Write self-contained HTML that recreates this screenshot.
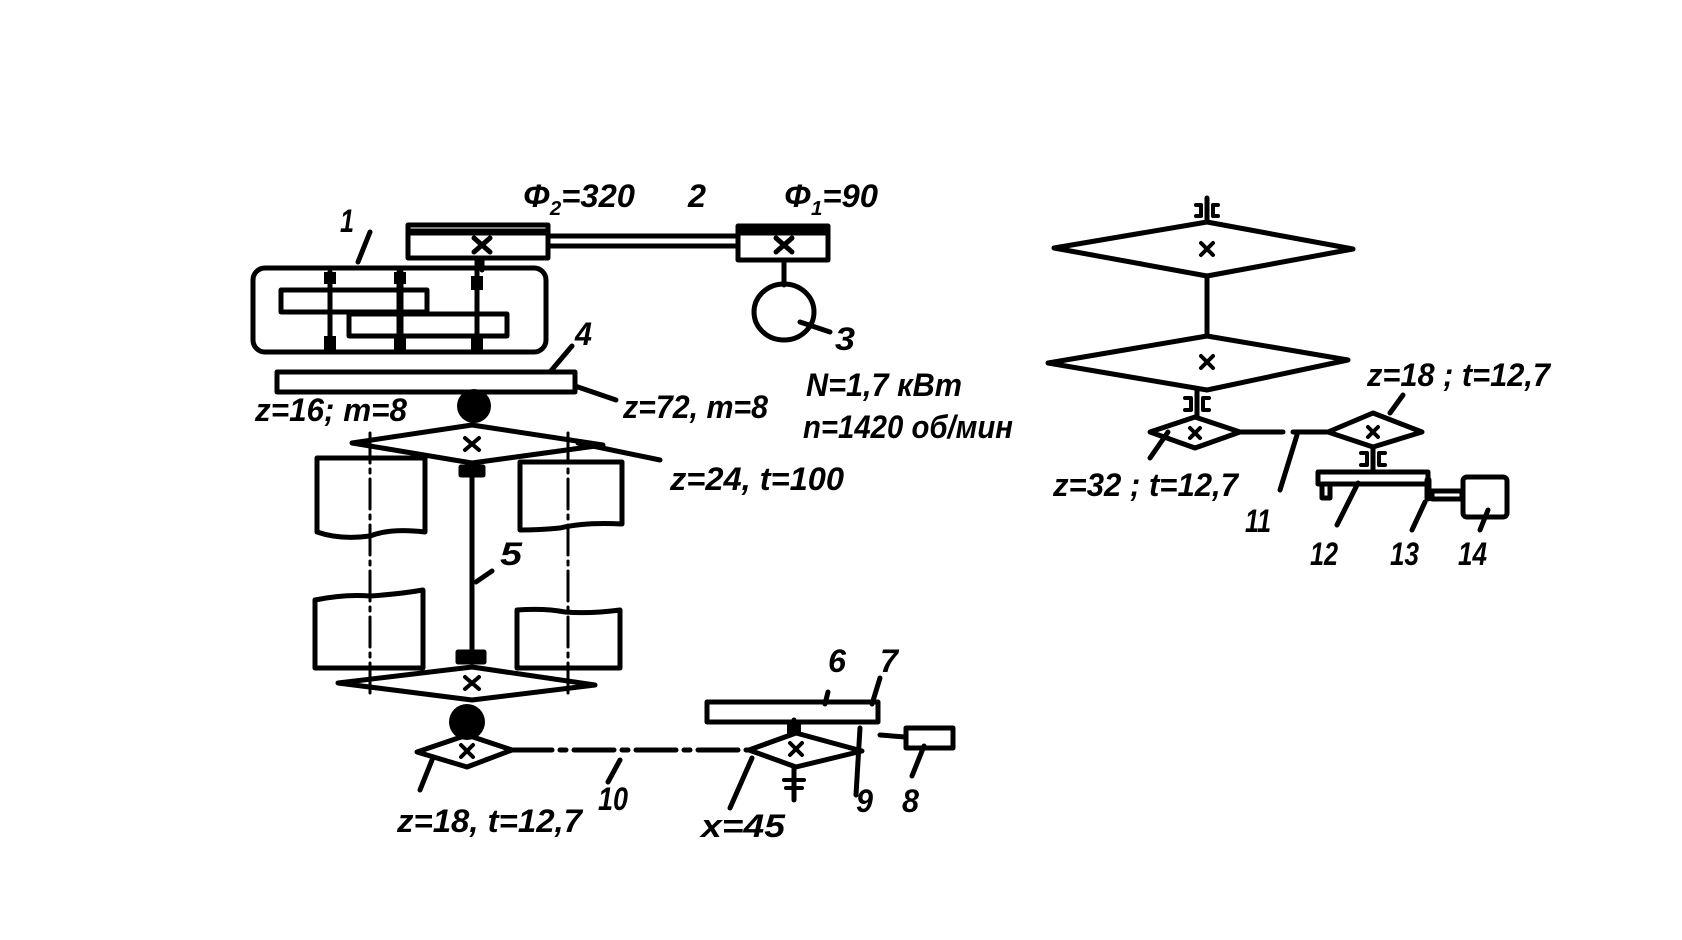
<!DOCTYPE html>
<html><head><meta charset="utf-8"><style>
html,body{margin:0;padding:0;background:#fff;}
svg{display:block;}
text{font-family:"Liberation Sans",sans-serif;font-weight:bold;font-style:italic;fill:#000;}
</style></head><body>
<svg width="1682" height="940" viewBox="0 0 1682 940" xmlns="http://www.w3.org/2000/svg">
<g fill="none" stroke="#000" stroke-width="5" stroke-linejoin="round" stroke-linecap="round">
<rect x="408" y="225" width="140" height="33"/>
<line x1="410" y1="232" x2="546" y2="232" stroke-width="7"/>
<rect x="738" y="226" width="90" height="34"/>
<line x1="740" y1="232" x2="826" y2="232" stroke-width="7"/>
<line x1="548" y1="236" x2="738" y2="236"/>
<line x1="548" y1="246" x2="738" y2="246"/>
<path d="M474 238 L490 252 M490 238 L474 252"/>
<path d="M776 238 L792 252 M792 238 L776 252"/>
<line x1="482" y1="258" x2="482" y2="270"/>
<line x1="784" y1="260" x2="784" y2="285"/>
<ellipse cx="784" cy="312" rx="30" ry="28"/>
<line x1="800" y1="322" x2="830" y2="332"/>
<rect x="253" y="268" width="293" height="84" rx="12"/>
<rect x="281" y="290" width="146" height="22"/>
<rect x="349" y="314" width="158" height="22"/>
<line x1="330" y1="272" x2="330" y2="350"/>
<line x1="400" y1="272" x2="400" y2="350" stroke-width="7"/>
<line x1="477" y1="260" x2="477" y2="350"/>
<line x1="370" y1="232" x2="358" y2="262"/>
<rect x="277" y="372" width="298" height="20"/>
<line x1="575" y1="386" x2="616" y2="400"/>
<line x1="550" y1="372" x2="572" y2="346"/>
<path d="M352 443 L472 425 L603 445 L472 463 Z"/>
<line x1="578" y1="443" x2="660" y2="460"/>
<path d="M465 438 L479 450 M479 438 L465 450" stroke-width="4"/>
<path d="M317 458 L425 458 L425 532 Q390 528 370 536 Q340 540 317 532 Z"/>
<path d="M520 462 L622 462 L622 524 Q585 522 560 528 Q540 530 520 530 Z"/>
<path d="M315 600 Q345 594 370 596 Q400 594 423 590 L423 668 L315 668 Z"/>
<path d="M517 610 Q545 608 565 612 Q590 614 620 610 L620 668 L517 668 Z"/>
<line x1="370" y1="433" x2="370" y2="697" stroke-dasharray="30 6 4 6" stroke-width="3"/>
<line x1="568" y1="433" x2="568" y2="697" stroke-dasharray="30 6 4 6" stroke-width="3"/>
<line x1="472" y1="470" x2="472" y2="657"/>
<rect x="461" y="467" width="22" height="8" fill="#000"/>
<rect x="458" y="652" width="26" height="10" fill="#000"/>
<line x1="476" y1="582" x2="492" y2="571"/>
<path d="M338 683 L472 667 L595 685 L472 700 Z"/>
<path d="M465 677 L479 689 M479 677 L465 689" stroke-width="4"/>
<path d="M417 752 L467 735 L512 750 L467 767 Z"/>
<path d="M461 745 L473 757 M473 745 L461 757" stroke-width="4"/>
<line x1="512" y1="750" x2="750" y2="750" stroke-dasharray="40 8 6 8"/>
<path d="M749 750 L796 733 L862 751 L796 767 Z"/>
<path d="M790 743 L802 755 M802 743 L790 755" stroke-width="4"/>
<line x1="794" y1="720" x2="794" y2="733"/>
<line x1="794" y1="767" x2="794" y2="800"/>
<path d="M784 780 L804 780 M786 788 L802 788" stroke-width="4"/>
<line x1="432" y1="760" x2="420" y2="790"/>
<line x1="752" y1="758" x2="730" y2="808"/>
<line x1="620" y1="760" x2="608" y2="782"/>
<rect x="707" y="702" width="171" height="20"/>
<line x1="880" y1="735" x2="905" y2="737"/>
<rect x="906" y="728" width="47" height="20"/>
<line x1="860" y1="728" x2="856" y2="795"/>
<line x1="924" y1="746" x2="912" y2="776"/>
<line x1="828" y1="692" x2="825" y2="704"/>
<line x1="880" y1="678" x2="872" y2="704"/>
<line x1="1207" y1="198" x2="1207" y2="222"/>
<path d="M1196 205 L1201 205 L1201 216 L1196 216 M1218 205 L1213 205 L1213 216 L1218 216" stroke-width="4"/>
<path d="M1054 248 L1207 222 L1353 249 L1207 276 Z"/>
<path d="M1201 243 L1213 255 M1213 243 L1201 255" stroke-width="4"/>
<line x1="1207" y1="276" x2="1207" y2="336"/>
<path d="M1048 363 L1207 336 L1348 360 L1207 390 Z"/>
<path d="M1201 356 L1213 368 M1213 356 L1201 368" stroke-width="4"/>
<line x1="1197" y1="390" x2="1197" y2="417"/>
<path d="M1185 398 L1191 398 L1191 410 L1185 410 M1209 398 L1203 398 L1203 410 L1209 410" stroke-width="4"/>
<path d="M1150 432 L1195 417 L1240 432 L1195 448 Z"/>
<path d="M1190 428 L1200 438 M1200 428 L1190 438" stroke-width="4"/>
<line x1="1240" y1="432" x2="1283" y2="432"/>
<line x1="1293" y1="432" x2="1330" y2="432"/>
<path d="M1328 432 L1373 413 L1422 432 L1373 447 Z"/>
<path d="M1368 427 L1378 437 M1378 427 L1368 437" stroke-width="4"/>
<line x1="1373" y1="447" x2="1373" y2="472"/>
<path d="M1361 453 L1367 453 L1367 465 L1361 465 M1385 453 L1379 453 L1379 465 L1385 465" stroke-width="4"/>
<rect x="1318" y="472" width="110" height="12"/>
<rect x="1322" y="484" width="8" height="14"/>
<line x1="1428" y1="480" x2="1428" y2="498" stroke-width="7"/>
<rect x="1432" y="491" width="30" height="8"/>
<rect x="1463" y="477" width="44" height="40" rx="4"/>
<line x1="1168" y1="432" x2="1150" y2="458"/>
<line x1="1297" y1="435" x2="1280" y2="490"/>
<line x1="1358" y1="483" x2="1337" y2="525"/>
<line x1="1425" y1="502" x2="1412" y2="530"/>
<line x1="1488" y1="510" x2="1480" y2="530"/>
<line x1="1403" y1="395" x2="1390" y2="413"/>
</g>
<g fill="#000">
<ellipse cx="474" cy="406" rx="17" ry="17"/>
<ellipse cx="467" cy="722" rx="18" ry="18"/>
<rect x="324" y="272" width="12" height="12"/>
<rect x="324" y="336" width="12" height="14"/>
<rect x="394" y="272" width="12" height="12"/>
<rect x="394" y="336" width="12" height="14"/>
<rect x="471" y="276" width="12" height="14"/>
<rect x="471" y="336" width="12" height="14"/>
<rect x="787" y="724" width="14" height="10"/>
</g>
<g font-size="32">
<text x="340" y="232" textLength="14" lengthAdjust="spacingAndGlyphs">1</text>
<text x="523" y="207" textLength="112" lengthAdjust="spacingAndGlyphs">Φ<tspan font-size="20" dy="8">2</tspan><tspan dy="-8">=320</tspan></text>
<text x="688" y="207" textLength="18" lengthAdjust="spacingAndGlyphs">2</text>
<text x="784" y="207" textLength="94" lengthAdjust="spacingAndGlyphs">Φ<tspan font-size="20" dy="8">1</tspan><tspan dy="-8">=90</tspan></text>
<text x="835" y="350" textLength="20" lengthAdjust="spacingAndGlyphs">3</text>
<text x="575" y="345" textLength="17" lengthAdjust="spacingAndGlyphs">4</text>
<text x="255" y="421" textLength="152" lengthAdjust="spacingAndGlyphs">z=16; m=8</text>
<text x="623" y="418" textLength="145" lengthAdjust="spacingAndGlyphs">z=72, m=8</text>
<text x="806" y="396" textLength="156" lengthAdjust="spacingAndGlyphs">N=1,7 кВт</text>
<text x="803" y="438" textLength="210" lengthAdjust="spacingAndGlyphs">n=1420 об/мин</text>
<text x="670" y="490" textLength="174" lengthAdjust="spacingAndGlyphs">z=24, t=100</text>
<text x="500" y="565" textLength="22" lengthAdjust="spacingAndGlyphs">5</text>
<text x="828" y="672" textLength="18" lengthAdjust="spacingAndGlyphs">6</text>
<text x="880" y="672" textLength="18" lengthAdjust="spacingAndGlyphs">7</text>
<text x="397" y="832" textLength="185" lengthAdjust="spacingAndGlyphs">z=18, t=12,7</text>
<text x="598" y="810" textLength="30" lengthAdjust="spacingAndGlyphs">10</text>
<text x="701" y="837" textLength="84" lengthAdjust="spacingAndGlyphs">x=45</text>
<text x="856" y="812" textLength="17" lengthAdjust="spacingAndGlyphs">9</text>
<text x="902" y="812" textLength="17" lengthAdjust="spacingAndGlyphs">8</text>
<text x="1367" y="386" textLength="183" lengthAdjust="spacingAndGlyphs">z=18 ; t=12,7</text>
<text x="1053" y="496" textLength="185" lengthAdjust="spacingAndGlyphs">z=32 ; t=12,7</text>
<text x="1245" y="532" textLength="26" lengthAdjust="spacingAndGlyphs">11</text>
<text x="1310" y="565" textLength="28" lengthAdjust="spacingAndGlyphs">12</text>
<text x="1390" y="565" textLength="29" lengthAdjust="spacingAndGlyphs">13</text>
<text x="1458" y="565" textLength="29" lengthAdjust="spacingAndGlyphs">14</text>
</g>
</svg>
</body></html>
